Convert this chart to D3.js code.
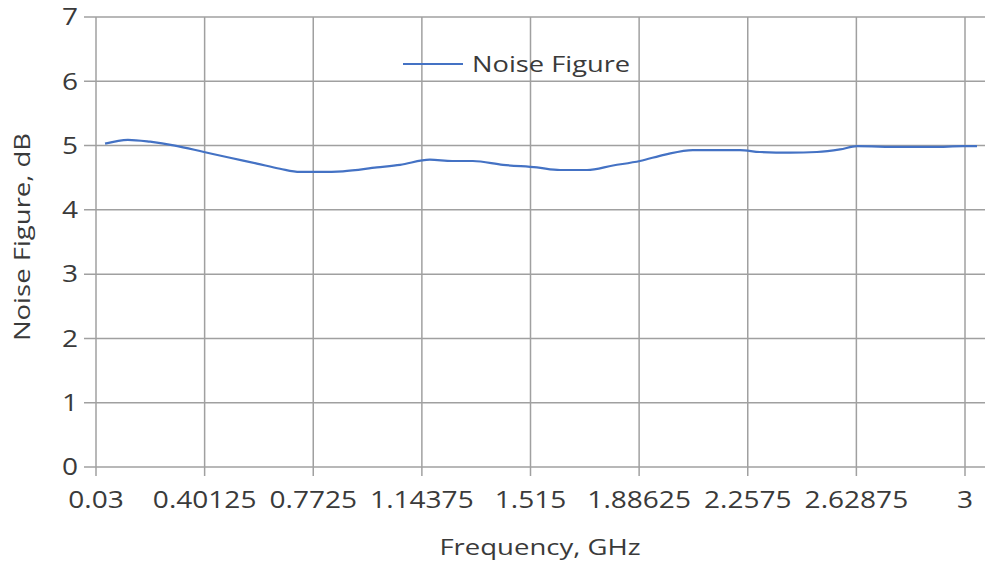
<!DOCTYPE html>
<html><head><meta charset="utf-8">
<script src="https://cdn.jsdelivr.net/npm/d3@7/dist/d3.min.js"></script>
<style>body{margin:0;background:#fff;} text{font-family:"Open Sans",sans-serif;fill:#3a3a3a;}</style>
</head><body><svg id="c" width="986" height="565"></svg>
<script>
const freqs = [0.061,0.139,0.215,0.30,0.399,0.488,0.580,0.659,0.727,0.796,0.874,0.990,1.069,1.171,1.247,1.318,1.421,1.537,1.616,1.708,1.797,1.889,1.975,2.070,2.231,2.299,2.402,2.494,2.573,2.631,2.778,2.891,2.993,3.041];
const noiseFigure = [5.03,5.09,5.06,5.00,4.90,4.81,4.72,4.64,4.59,4.59,4.60,4.66,4.70,4.78,4.76,4.76,4.70,4.66,4.62,4.62,4.69,4.76,4.86,4.93,4.93,4.90,4.89,4.90,4.94,4.99,4.98,4.98,4.99,4.99];
const xTicks = [0.03,0.40125,0.7725,1.14375,1.515,1.88625,2.2575,2.62875,3];
const xTickLabels = ["0.03","0.40125","0.7725","1.14375","1.515","1.88625","2.2575","2.62875","3"];
const yTicks = [0,1,2,3,4,5,6,7];
const seriesName = "Noise Figure";

const svg = d3.select("#c");
const L=96, R=985, T=17, B=467;
const x = d3.scaleLinear().domain([0.03, 3 + (3-0.03)*20/869]).range([L, R]);
const y = d3.scaleLinear().domain([0,7]).range([B, T]);
const grid = "#a0a0a0";
const SX = 1.22;

svg.append("g").selectAll("line").data(yTicks).join("line")
  .attr("x1", L-12).attr("x2", R).attr("y1", d=>y(d)).attr("y2", d=>y(d))
  .attr("stroke", grid).attr("stroke-width", 1.5);
svg.append("g").selectAll("line").data(xTicks).join("line")
  .attr("x1", d=>x(d)).attr("x2", d=>x(d)).attr("y1", T).attr("y2", B+9)
  .attr("stroke", grid).attr("stroke-width", 1.5);

svg.append("g").selectAll("text").data(yTicks).join("text")
  .attr("transform", d=>`translate(78,${y(d)}) scale(${SX},1)`).attr("dy","0.36em").attr("text-anchor","end")
  .attr("font-size", 23).text(d=>d);
svg.append("g").selectAll("text").data(xTicks).join("text")
  .attr("transform", d=>`translate(${x(d)},508) scale(${SX},1)`).attr("text-anchor","middle")
  .attr("font-size", 23).text((d,i)=>xTickLabels[i]);

svg.append("text").attr("transform","translate(540,555) scale(1.25,1)").attr("text-anchor","middle")
  .attr("font-size", 22).text("Frequency, GHz");
svg.append("text").attr("transform", "translate(30,237) rotate(-90) scale(1.25,1)").attr("text-anchor","middle")
  .attr("font-size", 22).text("Noise Figure, dB");

const line = d3.line().x((d,i)=>x(freqs[i])).y(d=>y(d)).curve(d3.curveMonotoneX);
svg.append("path").datum(noiseFigure).attr("d", line)
  .attr("fill","none").attr("stroke","#4472c4").attr("stroke-width",2.2);

svg.append("line").attr("x1",403).attr("x2",463).attr("y1",64).attr("y2",64)
  .attr("stroke","#4472c4").attr("stroke-width",2.2);
svg.append("text").attr("transform","translate(472,64) scale(1.24,1)").attr("dy","0.36em").attr("font-size",22).text(seriesName);
</script></body></html>
